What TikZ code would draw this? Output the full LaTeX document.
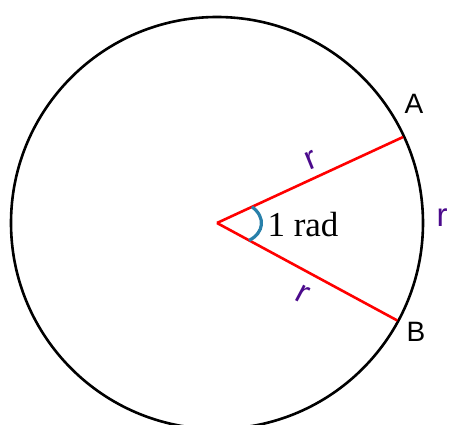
\documentclass[tikz,border=0pt]{standalone}
\usepackage{fontspec}
\setmainfont{Liberation Serif}
\setsansfont{Liberation Sans}
\usetikzlibrary{positioning, calc}
\definecolor{radpurple}{RGB}{75,10,140}
\definecolor{arcblue}{RGB}{40,128,170}

\begin{document}
\begin{tikzpicture}[
    x=1pt, y=1pt,
    every node/.style = {inner sep=0pt},
    rim/.style        = {draw=black, line width=2.6pt},
    radius line/.style= {draw=red, line width=2.6pt},
    anglearc/.style   = {draw=arcblue, line width=3.2pt},
    ptlabel/.style    = {font=\sffamily\fontsize{28}{30}\selectfont},
    rlabel/.style     = {text=radpurple, font=\sffamily\fontsize{33}{35}\selectfont}
]
% Frame
\useasboundingbox (-217,-202) rectangle (233,223);

% Circle and its centre
\coordinate (O) at (0,0);
\draw[rim] (O) circle[radius=206];

% Points on the rim
\coordinate (A) at (24.8:205);
\coordinate (B) at (-28.4:205);
\node[ptlabel] (Alab) at (197,119) {A};
\node[ptlabel] (Blab) at (199,-109) {B};

% Radii
\draw[radius line] (O) -- (A);
\draw[radius line] (O) -- (B);

% Angle mark
\coordinate (arcA) at (24.8:38.5);
\coordinate (arcB) at (-28.4:36.5);
\draw[anglearc] (arcA) .. controls (49,6) and (47,-10) .. (arcB);
\node[font=\fontsize{35}{38}\selectfont] (ang) at (86,-2) {1 rad};

% Lengths
\node[rlabel, rotate=22]  (rA)  at (94,63)  {r};
\node[rlabel, rotate=-28] (rB)  at (86,-71) {r};
\node[rlabel]             (rAB) at (225,5)  {r};
\end{tikzpicture}
\end{document}
